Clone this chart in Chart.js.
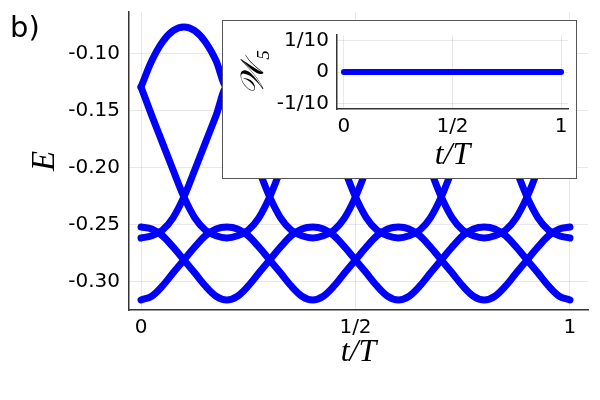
<!DOCTYPE html>
<html>
<head>
<meta charset="utf-8">
<title>Quasienergy bands</title>
<script src="https://cdn.jsdelivr.net/npm/chart.js@4.4.0/dist/chart.umd.min.js"></script>
<style>
  body { margin: 0; background: #fff; }
  #wrap { position: relative; width: 600px; height: 400px; }
  #mainChart { position: absolute; left: 0; top: 0; }
  #panelLabel { position: absolute; left: 10px; top: 10px; font: 29px "DejaVu Sans"; line-height: normal; color: #000; }
  #insetBox { position: absolute; left: 222px; top: 20px; width: 353px; height: 157px; border: 1px solid #555; background: #fff; }
</style>
</head>
<body>
<div id="wrap">
  <canvas id="mainChart" width="600" height="400"></canvas>
  <div id="panelLabel">b)</div>
  <div id="insetBox"><canvas id="insetChart" width="353" height="157"></canvas></div>
</div>

<script>
    // time samples t/T
    var tVals = [0, 0.025, 0.05, 0.075, 0.1, 0.125, 0.15, 0.175, 0.2, 0.225,
                 0.25, 0.275, 0.3, 0.325, 0.35, 0.375, 0.4, 0.425, 0.45, 0.475,
                 0.5, 0.525, 0.55, 0.575, 0.6, 0.625, 0.65, 0.675, 0.7, 0.725,
                 0.75, 0.775, 0.8, 0.825, 0.85, 0.875, 0.9, 0.925, 0.95, 0.975, 1];

    // lowest pair of bands
    var band1 = [-0.3158, -0.3125, -0.3035, -0.2920, -0.2807, -0.2695, -0.2595, -0.2535, -0.2518,
                 -0.2535, -0.2595, -0.2695, -0.2807, -0.2920, -0.3035, -0.3125, -0.3158,
                 -0.3125, -0.3035, -0.2920, -0.2807, -0.2695, -0.2595, -0.2535, -0.2518,
                 -0.2535, -0.2595, -0.2695, -0.2807, -0.2920, -0.3035, -0.3125, -0.3158,
                 -0.3125, -0.3035, -0.2920, -0.2807, -0.2695, -0.2595, -0.2535, -0.2518];
    var band2 = [-0.2518, -0.2535, -0.2595, -0.2695, -0.2807, -0.2920, -0.3035, -0.3125, -0.3158,
                 -0.3125, -0.3035, -0.2920, -0.2807, -0.2695, -0.2595, -0.2535, -0.2518,
                 -0.2535, -0.2595, -0.2695, -0.2807, -0.2920, -0.3035, -0.3125, -0.3158,
                 -0.3125, -0.3035, -0.2920, -0.2807, -0.2695, -0.2595, -0.2535, -0.2518,
                 -0.2535, -0.2595, -0.2695, -0.2807, -0.2920, -0.3035, -0.3125, -0.3158];

    // middle pair
    var band3 = [-0.2614, -0.2595, -0.2545, -0.2435, -0.2254, -0.2020, -0.1780, -0.1540, -0.1290,
                 -0.1540, -0.1780, -0.2020, -0.2254, -0.2435, -0.2545, -0.2595, -0.2614,
                 -0.2595, -0.2545, -0.2435, -0.2254, -0.2020, -0.1780, -0.1540, -0.1290,
                 -0.1540, -0.1780, -0.2020, -0.2254, -0.2435, -0.2545, -0.2595, -0.2614,
                 -0.2595, -0.2545, -0.2435, -0.2254, -0.2020, -0.1780, -0.1540, -0.1290];
    var band4 = [-0.1290, -0.1540, -0.1780, -0.2020, -0.2254, -0.2435, -0.2545, -0.2595, -0.2614,
                 -0.2595, -0.2545, -0.2435, -0.2254, -0.2020, -0.1780, -0.1540, -0.1290,
                 -0.1540, -0.1780, -0.2020, -0.2254, -0.2435, -0.2545, -0.2595, -0.2614,
                 -0.2595, -0.2545, -0.2435, -0.2254, -0.2020, -0.1780, -0.1540, -0.1290,
                 -0.1540, -0.1780, -0.2020, -0.2254, -0.2435, -0.2545, -0.2595, -0.2614];

    // top band (arches)
    var band5 = [-0.1290, -0.1060, -0.0895, -0.0796, -0.0763, -0.0796, -0.0895, -0.1060, -0.1290,
                 -0.1060, -0.0895, -0.0796, -0.0763, -0.0796, -0.0895, -0.1060, -0.1290,
                 -0.1060, -0.0895, -0.0796, -0.0763, -0.0796, -0.0895, -0.1060, -0.1290,
                 -0.1060, -0.0895, -0.0796, -0.0763, -0.0796, -0.0895, -0.1060, -0.1290,
                 -0.1060, -0.0895, -0.0796, -0.0763, -0.0796, -0.0895, -0.1060, -0.1290];

    var xTicks = [0, 0.5, 1];
    var xTickLabels = ['0', '1/2', '1'];
    var yTicks = [-0.30, -0.25, -0.20, -0.15, -0.10];
    var yTickLabels = ['-0.30', '-0.25', '-0.20', '-0.15', '-0.10'];

    // inset: winding number W_5
    var insetT = [0, 0.1, 0.2, 0.3, 0.4, 0.5, 0.6, 0.7, 0.8, 0.9, 1];
    var w5Vals = [0, 0, 0, 0, 0, 0, 0, 0, 0, 0, 0];
    var insetYTicks = [-0.1, 0, 0.1];
    var insetYTickLabels = ['-1/10', '0', '1/10'];

    var tickFont = { family: 'DejaVu Sans', size: 20 };
    var mathFont = { family: 'Liberation Serif', size: 32, style: 'italic' };
    var gridColor = 'rgba(0,0,0,0.09)';

    function lineSet(vals, xs, w) {
        return {
            data: xs.map(function (t, i) { return { x: t, y: vals[i] }; }),
            borderColor: '#0000ff',
            borderWidth: w,
            pointRadius: 0,
            fill: false,
            cubicInterpolationMode: 'monotone',
            borderCapStyle: 'round',
            borderJoinStyle: 'round'
        };
    }

    function fixedTicks(vals) {
        return function (scale) { scale.ticks = vals.map(function (v) { return { value: v }; }); };
    }

    // pin the scale size and drop the label overhang padding
    function fitX(h) {
        return function (s) { s.height = h; s.paddingLeft = 0; s.paddingRight = 0; };
    }
    function fitY(w) {
        return function (s) { s.width = w; s.paddingTop = 0; s.paddingBottom = 0; };
    }

    var ctx = document.getElementById('mainChart').getContext('2d');
    var chart = new Chart(ctx, {
        type: 'line',
        data: {
            datasets: [band1, band2, band3, band4, band5].map(function (b) { return lineSet(b, tVals, 7); })
        },
        options: {
            responsive: false,
            animation: false,
            layout: { padding: { left: 0, right: 12, top: 12, bottom: 0 } },
            plugins: { legend: { display: false }, tooltip: { enabled: false } },
            scales: {
                x: {
                    type: 'linear', min: -0.028, max: 1.042,
                    afterBuildTicks: fixedTicks(xTicks),
                    afterFit: fitX(90),
                    ticks: {
                        font: tickFont, color: '#000', padding: 6, maxRotation: 0, autoSkip: false,
                        callback: function (v) { return xTickLabels[xTicks.indexOf(v)]; }
                    },
                    grid: { color: gridColor, drawTicks: false },
                    border: { color: '#333', width: 1.5 },
                    title: { display: true, text: 't/T', font: mathFont, color: '#000', padding: { top: 0, bottom: 28 } }
                },
                y: {
                    type: 'linear', min: -0.3246, max: -0.0632,
                    afterBuildTicks: fixedTicks(yTicks),
                    afterFit: fitY(129),
                    ticks: {
                        font: tickFont, color: '#000', padding: 9, autoSkip: false,
                        callback: function (v) { return yTickLabels[yTicks.indexOf(v)]; }
                    },
                    grid: { color: gridColor, drawTicks: false },
                    border: { color: '#333', width: 1.5 },
                    title: { display: true, text: 'E', font: { family: 'Liberation Serif', size: 33, style: 'italic' }, color: '#000', padding: { top: 26, bottom: 0 } }
                }
            }
        }
    });

    var ctx2 = document.getElementById('insetChart').getContext('2d');
    var inset = new Chart(ctx2, {
        type: 'line',
        data: { datasets: [lineSet(w5Vals, insetT, 6)] },
        options: {
            responsive: false,
            animation: false,
            layout: { padding: { left: 0, right: 8, top: 14, bottom: 0 } },
            plugins: { legend: { display: false }, tooltip: { enabled: false } },
            scales: {
                x: {
                    type: 'linear', min: -0.032, max: 1.032,
                    afterBuildTicks: fixedTicks(xTicks),
                    afterFit: fitX(69),
                    ticks: {
                        font: tickFont, color: '#000', padding: 6, maxRotation: 0, autoSkip: false,
                        callback: function (v) { return xTickLabels[xTicks.indexOf(v)]; }
                    },
                    grid: { color: gridColor, drawTicks: false },
                    border: { color: '#333', width: 1.5 },
                    title: { display: true, text: 't/T', font: mathFont, color: '#000', padding: { top: 0, bottom: 3 } }
                },
                y: {
                    type: 'linear', min: -0.118, max: 0.118,
                    afterBuildTicks: fixedTicks(insetYTicks),
                    afterFit: fitY(114),
                    ticks: {
                        font: tickFont, color: '#000', padding: 8, autoSkip: false,
                        callback: function (v) { return insetYTickLabels[insetYTicks.indexOf(v)]; }
                    },
                    grid: { color: gridColor, drawTicks: false },
                    border: { color: '#333', width: 1.5 },
                    title: { display: true, text: '\u{1D4B2}\u2085', font: { family: 'Liberation Serif', size: 32, style: 'italic' }, color: '#000', padding: { top: 12, bottom: 0 } }
                }
            }
        }
    });
</script>
</body>
</html>
